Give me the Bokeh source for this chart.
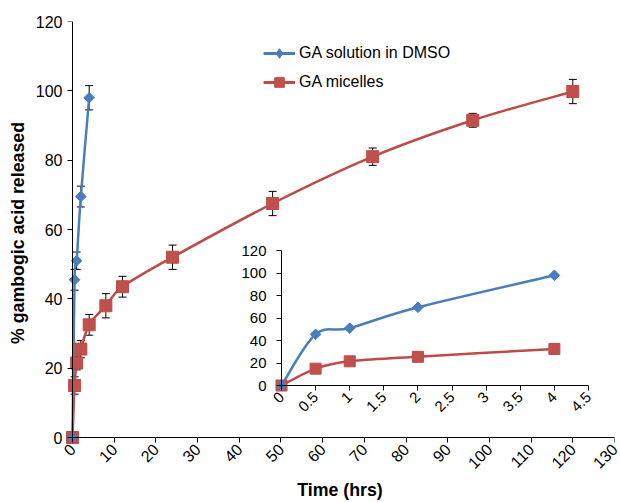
import math
from bokeh.plotting import figure
from bokeh.models import (Range1d, LinearAxis, FixedTicker, NumeralTickFormatter, Whisker,
                          TeeHead, ColumnDataSource, Legend, LegendItem)
from bokeh.embed import file_html
from bokeh.resources import INLINE

# ---------------- data ----------------
dmso_time = [0, 0.5, 1, 2, 4]
dmso_release = [0, 45.5, 51.0, 69.5, 98.0]
dmso_err = [0, 3.0, 2.5, 3.0, 3.5]

mic_time = [0, 0.5, 1, 2, 4, 8, 12, 24, 48, 72, 96, 120]
mic_release = [0, 15.0, 21.5, 25.5, 32.5, 38.0, 43.5, 52.0, 67.5, 81.0, 91.5, 99.8]
mic_err = [0, 2.5, 2.0, 2.5, 3.0, 3.5, 3.0, 3.5, 3.5, 2.5, 2.0, 3.5]

main_x_ticks = [0, 10, 20, 30, 40, 50, 60, 70, 80, 90, 100, 110, 120, 130]
main_y_ticks = [0, 20, 40, 60, 80, 100, 120]
inset_x_ticks = [0, 0.5, 1, 1.5, 2, 2.5, 3, 3.5, 4, 4.5]
inset_y_ticks = [0, 20, 40, 60, 80, 100, 120]
inset_points = 5  # first five time points are shown in the inset

series_labels = ["GA solution in DMSO", "GA micelles"]
x_title = "Time (hrs)"
y_title = "% gambogic acid released"

# ---------------- style / layout ----------------
FONT = "Liberation Sans"
BLUE = "#4A7EBB"
RED = "#BE4B48"
RED_FILL = "#C0504D"

W, H = 620, 502
FRAME_LEFT, FRAME_RIGHT, FRAME_TOP, FRAME_BOTTOM = 65, 614, 21, 444
AXIS_X, AXIS_Y = 72, 437          # pixel position of main x=0 and y=0
INSET_X0, INSET_X1 = 281, 588     # pixel position of inset x first / last tick
INSET_Y0, INSET_Y1 = 385, 250     # pixel position of inset y first / last tick

mx0, mx1 = main_x_ticks[0], main_x_ticks[-1]
my0, my1 = main_y_ticks[0], main_y_ticks[-1]
x_start = mx0 - (AXIS_X - FRAME_LEFT) * (mx1 - mx0) / (FRAME_RIGHT - AXIS_X)
y_start = my0 - (FRAME_BOTTOM - AXIS_Y) * (my1 - my0) / (AXIS_Y - FRAME_TOP)


def smooth_segments(xs, ys):
    """Bezier segments through the data points (smoothed line, Catmull-Rom tangents)."""
    n = len(xs)
    out = dict(x0=[], y0=[], x1=[], y1=[], cx0=[], cy0=[], cx1=[], cy1=[])
    for i in range(n - 1):
        a = i - 1 if i > 0 else i
        d = i + 2 if i + 2 < n else i + 1
        out["x0"].append(xs[i]); out["y0"].append(ys[i])
        out["x1"].append(xs[i + 1]); out["y1"].append(ys[i + 1])
        out["cx0"].append(xs[i] + (xs[i + 1] - xs[a]) / 6.0)
        out["cy0"].append(ys[i] + (ys[i + 1] - ys[a]) / 6.0)
        out["cx1"].append(xs[i + 1] - (xs[d] - xs[i]) / 6.0)
        out["cy1"].append(ys[i + 1] - (ys[d] - ys[i]) / 6.0)
    return out


p = figure(width=W, height=H, x_range=Range1d(x_start, mx1), y_range=Range1d(y_start, my1),
           output_backend="svg", toolbar_location=None,
           min_border_left=FRAME_LEFT, min_border_right=W - FRAME_RIGHT,
           min_border_top=FRAME_TOP, min_border_bottom=H - FRAME_BOTTOM)
p.grid.visible = False
p.outline_line_color = None
p.background_fill_color = "white"
p.border_fill_color = "white"


def style_axis(ax, label_size):
    ax.axis_line_color = "black"
    ax.axis_line_width = 1
    ax.major_tick_line_color = "black"
    ax.major_tick_out = 5
    ax.major_tick_in = 0
    ax.minor_tick_line_color = None
    ax.major_label_text_font = FONT
    ax.major_label_text_font_size = label_size
    ax.major_label_text_color = "black"
    ax.axis_label_text_font = FONT
    ax.axis_label_text_font_size = "17.75px"
    ax.axis_label_text_font_style = "bold"
    ax.axis_label_text_color = "black"


# side axes: tick labels and titles only (placed next to the frame)
xa, ya = p.xaxis[0], p.yaxis[0]
style_axis(xa, "16px")
style_axis(ya, "16px")
for ax in (xa, ya):
    ax.axis_line_color = None
    ax.major_tick_line_color = None
    ax.major_tick_out = 0
xa.ticker = FixedTicker(ticks=main_x_ticks, minor_ticks=[])
ya.ticker = FixedTicker(ticks=main_y_ticks, minor_ticks=[])
xa.major_label_orientation = math.pi / 4
xa.major_label_standoff = 2
xa.axis_label = x_title
xa.axis_label_standoff = 3
ya.axis_label = y_title
ya.major_label_standoff = 3
ya.axis_label_standoff = 5

# axis lines and ticks crossing at the data origin
x_line = LinearAxis(fixed_location=0, bounds=(mx0, mx1),
                    ticker=FixedTicker(ticks=main_x_ticks, minor_ticks=[]))
y_line = LinearAxis(fixed_location=0, bounds=(my0, my1),
                    ticker=FixedTicker(ticks=main_y_ticks, minor_ticks=[]))
for ax in (x_line, y_line):
    style_axis(ax, "16px")
    ax.major_label_text_color = None
p.add_layout(x_line, "below")
p.add_layout(y_line, "left")

# ---------------- main chart ----------------
mic_src = ColumnDataSource(dict(t=mic_time, r=mic_release,
                                up=[v + e for v, e in zip(mic_release, mic_err)],
                                lo=[v - e for v, e in zip(mic_release, mic_err)]))
dmso_src = ColumnDataSource(dict(t=dmso_time, r=dmso_release,
                                 up=[v + e for v, e in zip(dmso_release, dmso_err)],
                                 lo=[v - e for v, e in zip(dmso_release, dmso_err)]))

for src in (mic_src, dmso_src):
    w = Whisker(base="t", upper="up", lower="lo", source=src, dimension="height",
                line_color="black", line_width=1,
                upper_head=TeeHead(size=8, line_color="black", line_width=1),
                lower_head=TeeHead(size=8, line_color="black", line_width=1))
    w.level = "underlay"
    p.add_layout(w)

bez = dict(x0="x0", y0="y0", x1="x1", y1="y1", cx0="cx0", cy0="cy0", cx1="cx1", cy1="cy1")
p.bezier(source=ColumnDataSource(smooth_segments(mic_time, mic_release)),
         line_color=RED, line_width=2.5, **bez)
p.bezier(source=ColumnDataSource(smooth_segments(dmso_time, dmso_release)),
         line_color=BLUE, line_width=2.5, **bez)
p.scatter("t", "r", source=mic_src, marker="square", size=12,
          fill_color=RED_FILL, line_color=RED)
p.scatter("t", "r", source=dmso_src, marker="square", angle=math.pi / 4, size=7.5,
          fill_color=BLUE, line_color=BLUE)

# ---------------- inset ----------------
ix_span = inset_x_ticks[-1] - inset_x_ticks[0]
iy_span = inset_y_ticks[-1] - inset_y_ticks[0]
ix_per_px = ix_span / (INSET_X1 - INSET_X0)
iy_per_px = iy_span / (INSET_Y0 - INSET_Y1)
ix_start = inset_x_ticks[0] - (INSET_X0 - FRAME_LEFT) * ix_per_px
ix_end = ix_start + (FRAME_RIGHT - FRAME_LEFT) * ix_per_px
iy_start = inset_y_ticks[0] - (FRAME_BOTTOM - INSET_Y0) * iy_per_px
iy_end = iy_start + (FRAME_BOTTOM - FRAME_TOP) * iy_per_px
p.extra_x_ranges = {"ix": Range1d(ix_start, ix_end)}
p.extra_y_ranges = {"iy": Range1d(iy_start, iy_end)}

inset_xaxis = LinearAxis(x_range_name="ix", y_range_name="iy", fixed_location=0,
                         bounds=(inset_x_ticks[0], inset_x_ticks[-1]),
                         ticker=FixedTicker(ticks=inset_x_ticks, minor_ticks=[]),
                         formatter=NumeralTickFormatter(format="0.[0]"))
style_axis(inset_xaxis, "15px")
inset_xaxis.major_label_orientation = math.pi / 4
inset_xaxis.major_label_standoff = 4
p.add_layout(inset_xaxis, "below")

inset_yaxis = LinearAxis(x_range_name="ix", y_range_name="iy", fixed_location=0,
                         bounds=(inset_y_ticks[0], inset_y_ticks[-1]),
                         ticker=FixedTicker(ticks=inset_y_ticks, minor_ticks=[]))
style_axis(inset_yaxis, "15px")
inset_yaxis.major_label_standoff = 10
p.add_layout(inset_yaxis, "left")

inset_rng = dict(x_range_name="ix", y_range_name="iy")
p.bezier(source=ColumnDataSource(smooth_segments(mic_time[:inset_points], mic_release[:inset_points])),
         line_color=RED, line_width=2.5, **bez, **inset_rng)
p.bezier(source=ColumnDataSource(smooth_segments(dmso_time, dmso_release)),
         line_color=BLUE, line_width=2.5, **bez, **inset_rng)
p.scatter(mic_time[:inset_points], mic_release[:inset_points], marker="square", size=11,
          fill_color=RED_FILL, line_color=RED, **inset_rng)
p.scatter(dmso_time, dmso_release, marker="square", angle=math.pi / 4, size=7.5,
          fill_color=BLUE, line_color=BLUE, **inset_rng)

# ---------------- legend (hidden sample renderers) ----------------
lb = p.line(dmso_time, dmso_release, line_color=BLUE, line_width=3, visible=False)
mb = p.scatter(dmso_time, dmso_release, marker="diamond", fill_color=BLUE, line_color=BLUE,
               visible=False)
lr = p.line(mic_time, mic_release, line_color=RED, line_width=3, visible=False)
mr = p.scatter(mic_time, mic_release, marker="square", fill_color=RED_FILL, line_color=RED,
               visible=False)
legend = Legend(items=[LegendItem(label=series_labels[0], renderers=[lb, mb]),
                       LegendItem(label=series_labels[1], renderers=[lr, mr])],
                location=(198, 350), padding=0, margin=0, spacing=5,
                glyph_width=32, glyph_height=24, label_height=20, label_standoff=4,
                label_text_font=FONT, label_text_font_size="16px", label_text_color="black",
                border_line_color=None, background_fill_alpha=0)
p.add_layout(legend)

open("out.html", "w").write(file_html(p, INLINE))
